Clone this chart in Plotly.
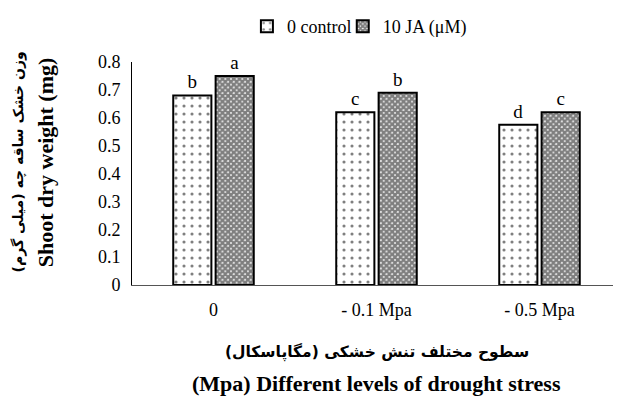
import plotly.graph_objects as go

categories = ["0", "- 0.1 Mpa", "- 0.5 Mpa"]
control_vals = [0.68, 0.62, 0.575]
ja_vals = [0.75, 0.69, 0.62]
control_letters = ["b", "c", "d"]
ja_letters = ["a", "b", "c"]
y_ticks = [0, 0.1, 0.2, 0.3, 0.4, 0.5, 0.6, 0.7, 0.8]

FONT = "Liberation Serif"

fig = go.Figure()
fig.add_trace(go.Bar(
    x=categories, y=control_vals, name="0 control",
    text=control_letters, textposition="outside",
    textfont=dict(family=FONT, size=19, color="black"),
    marker=dict(color="white", line=dict(color="black", width=2),
                pattern=dict(shape=".", fgcolor="black", bgcolor="white", size=8, solidity=0.12)),
    cliponaxis=False, legend="legend",
))
fig.add_trace(go.Bar(
    x=categories, y=ja_vals, name="10 JA (\u03bcM)",
    text=ja_letters, textposition="outside",
    textfont=dict(family=FONT, size=19, color="black"),
    marker=dict(color="white", line=dict(color="black", width=2),
                pattern=dict(shape="x", fgcolor="black", bgcolor="white", size=4, solidity=0.85)),
    cliponaxis=False, legend="legend2",
))

legend_common = dict(orientation="h", yref="container", y=1, xanchor="left", yanchor="top",
                     font=dict(family=FONT, size=18), itemwidth=30,
                     bgcolor="rgba(0,0,0,0)")

fig.update_layout(
    width=613, height=392,
    margin=dict(l=124, r=0, t=54, b=115, autoexpand=False),
    paper_bgcolor="white", plot_bgcolor="white",
    barmode="group", bargap=0.48, bargroupgap=0.1,
    font=dict(family=FONT, size=18, color="black"),
    showlegend=True,
    legend=dict(x=0.235, **legend_common),
    legend2=dict(x=0.431, **legend_common),
    xaxis=dict(showline=True, linecolor="#555", linewidth=1, ticks="",
               tickfont=dict(family=FONT, size=18), showgrid=False, ticklabelstandoff=8),
    yaxis=dict(range=[0, 0.8], tickvals=y_ticks, showline=True, linecolor="black", linewidth=1,
               ticks="", showgrid=False, zeroline=False, ticklabelstandoff=7,
               tickfont=dict(family=FONT, size=18)),
)

fig.add_annotation(
    text="<b>وزن خشک ساقه چه (میلی گرم)\u200f</b>",
    xref="paper", yref="paper", x=-0.233, y=0.55, xanchor="center", yanchor="middle",
    textangle=-90, showarrow=False, font=dict(family="DejaVu Sans", size=14),
)
fig.add_annotation(
    text="<b>Shoot dry weight (mg)</b>",
    xref="paper", yref="paper", x=-0.178, y=0.55, xanchor="center", yanchor="middle",
    textangle=-90, showarrow=False, font=dict(family=FONT, size=22),
)
fig.add_annotation(
    text="<b>سطوح مختلف تنش خشکی (مگاپاسکال)\u200f</b>",
    xref="paper", yref="paper", x=0.5, y=-0.30, xanchor="center", yanchor="middle",
    showarrow=False, font=dict(family="DejaVu Sans", size=15.5),
)
fig.add_annotation(
    text="<b>(Mpa) Different levels of drought stress</b>",
    xref="paper", yref="paper", x=0.5, y=-0.44, xanchor="center", yanchor="middle",
    showarrow=False, font=dict(family=FONT, size=22),
)

fig.write_html("out.html")
